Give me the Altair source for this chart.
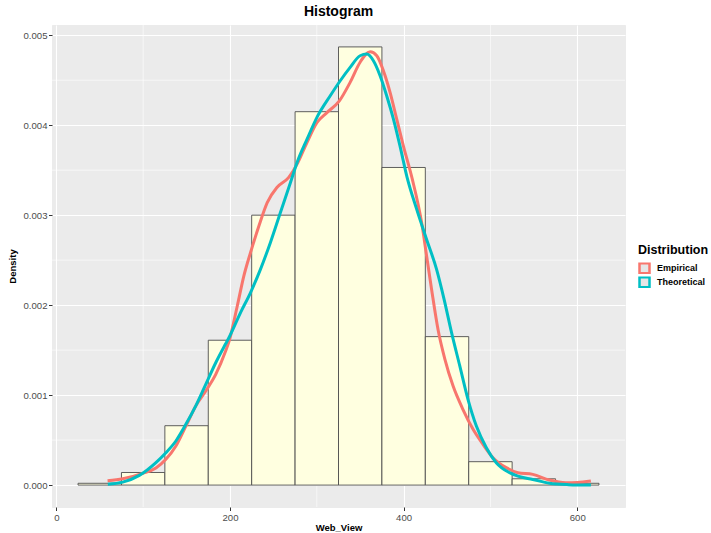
import altair as alt
import pandas as pd

# ---- data ----
bin_start = [25, 75, 125, 175, 225, 275, 325, 375, 425, 475, 525, 575]
bin_end = [75, 125, 175, 225, 275, 325, 375, 425, 475, 525, 575, 625]
bin_density = [0.00002, 0.00014, 0.00066, 0.00161, 0.00300, 0.00415,
               0.00487, 0.00353, 0.00165, 0.00026, 0.00007, 0.00002]

emp_x = [59, 76.5, 99.4, 114.7, 126.2, 137.7, 149.2, 160.6, 172.1, 183.6,
         195, 199, 208.4, 216, 223.7, 233.3, 242.9, 254.3, 267.7, 277.3,
         288.8, 300.3, 311.7, 326, 338.4, 349.9, 361.4, 369.1, 376.7, 384.4,
         392, 399.7, 410, 420.7, 426.5, 432.2, 439.8, 447.5, 457, 468.4,
         480, 491.4, 502.9, 518.2, 531.6, 548.8, 567.9, 587, 600, 615.7]
emp_y = [0.000049, 0.00007, 0.00013, 0.00019, 0.000286, 0.000434, 0.000656,
         0.00088, 0.001046, 0.00123, 0.00149, 0.00160, 0.00199, 0.002325,
         0.002585, 0.00288, 0.00314, 0.00331, 0.00342, 0.003567, 0.00381,
         0.00403, 0.00414, 0.00427, 0.004476, 0.0047, 0.004816, 0.004772,
         0.004605, 0.004365, 0.00407, 0.00377, 0.0034, 0.00292, 0.002547,
         0.002177, 0.00172, 0.0014, 0.0011, 0.00084, 0.00062, 0.000453,
         0.000305, 0.000194, 0.000138, 0.000119, 0.000056, 0.000027, 0.00003,
         0.000045]

theo_x = [59.3, 76.5, 95.6, 114.7, 126.2, 137.7, 149.2, 160.6, 172.1, 183.6,
          195, 198.9, 212.3, 223.7, 235.2, 246.7, 258.1, 269.6, 277.3, 288.8,
          300.3, 315.5, 327, 338.4, 349.9, 357.5, 365.2, 372.9, 380.5, 388.2,
          395.8, 404, 415, 426.5, 437.9, 446.5, 455.1, 464.7, 474.2, 483.8,
          495.3, 506.7, 522, 531.6, 548.8, 568, 590, 615.7]
theo_y = [0.00001, 0.000033, 0.000108, 0.00025, 0.00036, 0.00049, 0.000675,
          0.00088, 0.00112, 0.00136, 0.00157, 0.00164, 0.00192, 0.00214,
          0.0024, 0.0027, 0.00303, 0.00336, 0.003586, 0.003845, 0.00409,
          0.004327, 0.004494, 0.004643, 0.004772, 0.00479, 0.004716, 0.00455,
          0.004327, 0.00407, 0.00377, 0.00342, 0.003067, 0.00273, 0.0024,
          0.00207, 0.0017, 0.001324, 0.00095, 0.000656, 0.000416, 0.000249,
          0.000138, 0.0001, 0.000063, 0.00002, 0.000005, 0.0]

series_names = ["Empirical", "Theoretical"]
series_colors = ["#F8766D", "#00BFC4"]

x_major = [0, 200, 400, 600]
x_minor = [100, 300, 500]
y_major = [0.0, 0.001, 0.002, 0.003, 0.004, 0.005]
y_minor = [0.0005, 0.0015, 0.0025, 0.0035, 0.0045]

FONT = "Liberation Sans"

# ---- tables ----
bars_df = pd.DataFrame({"start": bin_start, "end": bin_end,
                        "density": bin_density, "base": [0.0] * len(bin_start)})
curve_df = pd.concat([
    pd.DataFrame({"x": emp_x, "y": emp_y, "Distribution": series_names[0]}),
    pd.DataFrame({"x": theo_x, "y": theo_y, "Distribution": series_names[1]}),
], ignore_index=True)

xscale = alt.Scale(domain=[-5, 655], nice=False, zero=False)
yscale = alt.Scale(domain=[-0.0002435, 0.0051135], nice=False, zero=False)

xaxis = alt.Axis(values=x_major, format="d", grid=True, gridColor="white",
                 gridWidth=1.1, domain=False, tickColor="#333333", tickSize=3.5,
                 tickWidth=1, labelColor="#4D4D4D", labelFontSize=9.6,
                 labelFont=FONT, labelPadding=1.5, titleFont=FONT,
                 titleFontWeight="bold", titleFontSize=9.5, titleColor="black",
                 titlePadding=1)
yaxis = alt.Axis(values=y_major, format=".3f", grid=True, gridColor="white",
                 gridWidth=1.1, domain=False, tickColor="#333333", tickSize=3.5,
                 tickWidth=1, labelColor="#4D4D4D", labelFontSize=9.6,
                 labelFont=FONT, labelPadding=1.5, titleFont=FONT,
                 titleFontWeight="bold", titleFontSize=9.5, titleColor="black",
                 titlePadding=5)

minor_x = alt.Chart(pd.DataFrame({"v": x_minor})).mark_rule(
    color="white", strokeWidth=0.6
).encode(x=alt.X("v:Q", scale=xscale, axis=xaxis, title="Web_View"))

minor_y = alt.Chart(pd.DataFrame({"v": y_minor})).mark_rule(
    color="white", strokeWidth=0.6
).encode(y=alt.Y("v:Q", scale=yscale, axis=yaxis, title="Density"))

bars = alt.Chart(bars_df).mark_rect(
    fill="#FFFFE0", stroke="#4D4D4D", strokeWidth=0.9
).encode(
    x=alt.X("start:Q", scale=xscale, axis=xaxis, title="Web_View"),
    x2="end:Q",
    y=alt.Y("density:Q", scale=yscale, axis=yaxis, title="Density"),
    y2="base:Q",
)

lines = alt.Chart(curve_df).mark_line(strokeWidth=3, interpolate="monotone").encode(
    x=alt.X("x:Q", scale=xscale, axis=xaxis, title="Web_View"),
    y=alt.Y("y:Q", scale=yscale, axis=yaxis, title="Density"),
    color=alt.Color(
        "Distribution:N",
        scale=alt.Scale(domain=series_names, range=series_colors),
        legend=alt.Legend(
            title="Distribution", orient="none", legendX=586, legendY=219,
            titleFont=FONT, titleFontSize=12.5, titleFontWeight="bold",
            titleColor="black", titlePadding=6,
            labelFont=FONT, labelFontSize=9, labelFontWeight="bold",
            labelColor="black", labelOffset=6,
            symbolType="square", symbolSize=100, symbolStrokeWidth=2.5,
            symbolFillColor="#E6E6E6", rowPadding=2, clipHeight=11.5,
            padding=0,
        ),
    ),
)

chart = alt.layer(minor_x, minor_y, bars, lines).properties(
    width=573,
    height=482,
    autosize=alt.AutoSizeParams(type="none"),
    padding={"left": 52, "top": 25, "right": 86, "bottom": 26},
    background="white",
    title=alt.TitleParams("Histogram", font=FONT, fontSize=14,
                          fontWeight="bold", color="black", anchor="middle",
                          offset=6),
).configure_view(fill="#EBEBEB", stroke="#EBEBEB")

chart.save("out.html", embed_options={"renderer": "svg", "actions": False})
